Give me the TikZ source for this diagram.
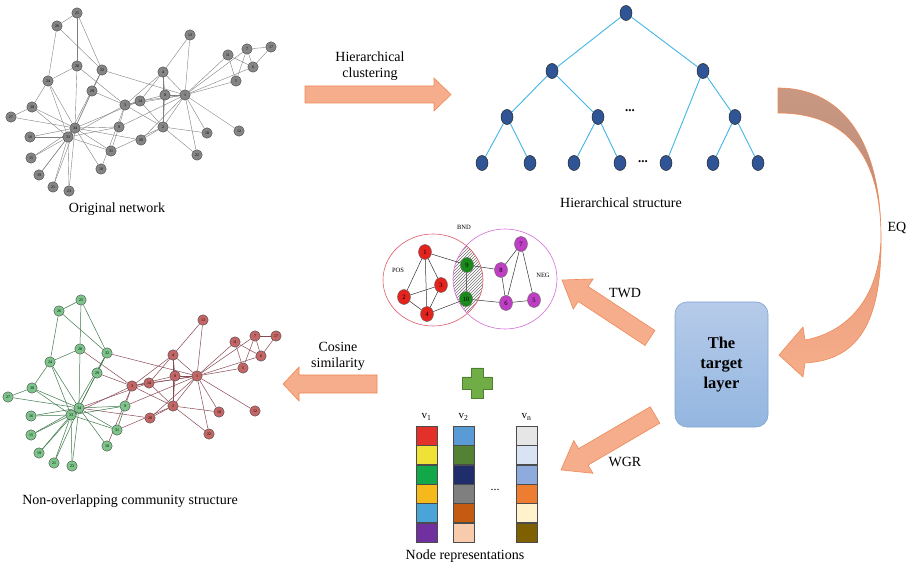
\documentclass[tikz,border=0pt]{standalone}
\usepackage{fontspec}
\setmainfont{Liberation Serif}
\usetikzlibrary{shapes.geometric,patterns}
\pgfdeclarelayer{bg}
\pgfsetlayers{bg,main}
\definecolor{arrfill}{HTML}{F5AD8B}
\definecolor{arrdraw}{HTML}{EE8A58}
\definecolor{treeedge}{HTML}{41B6E6}
\definecolor{treenode}{HTML}{2F5597}
\definecolor{grnode}{HTML}{7CC48A}
\definecolor{rdnode}{HTML}{C46666}
\definecolor{gredge}{HTML}{3F7A4C}
\definecolor{rdedge}{HTML}{8A4A55}
\definecolor{posred}{HTML}{E05A6A}
\definecolor{negmag}{HTML}{D46BD8}
\definecolor{vred}{HTML}{E3231E}
\definecolor{vgreen}{HTML}{1A8A1A}
\definecolor{vmag}{HTML}{BF3FC4}
\definecolor{boxtop}{HTML}{B6CBE9}
\definecolor{boxbot}{HTML}{93B6E0}
\definecolor{boxdraw}{HTML}{7FA5D3}
\definecolor{plusg}{HTML}{70AD47}
\definecolor{plusd}{HTML}{4F7F30}
\definecolor{eqtop}{HTML}{C99882}
\definecolor{eqmid}{HTML}{BB8A7A}
\definecolor{eqlo}{HTML}{E99A7C}
\definecolor{eqbot}{HTML}{F6AE8A}
\begin{document}
\begin{tikzpicture}[x=1pt,y=-1pt,
  onode/.style={circle,draw=black!75,fill=black!48,line width=0.35pt,inner sep=0pt,minimum size=10.5pt,font=\fontsize{4}{4}\selectfont},
  gnode/.style={onode,fill=grnode},
  rnode/.style={onode,fill=rdnode},
  oedge/.style={draw=black!50,line width=0.4pt},
  gedge/.style={draw=gredge,line width=0.5pt},
  redge/.style={draw=rdedge,line width=0.5pt},
  tnode/.style={ellipse,draw=black!85,fill=treenode,line width=0.5pt,inner sep=0pt,minimum width=12pt,minimum height=15pt},
  tedge/.style={draw=treeedge,line width=0.9pt},
  vnode/.style={ellipse,draw=black!60,line width=0.4pt,inner sep=0pt,minimum width=13pt,minimum height=15pt,font=\fontsize{6.5}{6.5}\selectfont},
  vedge/.style={draw=black!80,line width=0.5pt},
  lab/.style={font=\fontsize{14}{16}\selectfont,align=center,inner sep=0pt},
  blockarr/.style={fill=arrfill,draw=arrdraw,line width=0.6pt},
  dotsty/.style={font=\fontsize{13}{13}\selectfont\bfseries,anchor=base,inner sep=0pt},
  cell/.style={draw=black!70,line width=0.4pt,minimum width=21pt,minimum height=19.3pt,inner sep=0pt}
]
\useasboundingbox (0,0) rectangle (908,569);

% ---------------- original network ----------------
\foreach \n/\x/\y in {1/185/95,2/163/127,3/125/105,4/163/72,5/236/81,6/253/67,7/247/49,8/165/95,9/119/127,10/101/169,11/228/55,12/239/131,13/190/35,14/140/101,15/31/158,16/30/137,17/271/47,18/207/133,19/39/175,20/141/140,21/53/187,22/197/155,23/69/191,24/48/81,25/77/13,26/57/26,27/11/117,28/77/66,29/92/91,30/32/107,31/111/151,32/102/70,33/68/137,34/75/128}
  \node[onode] (o\n) at (\x,\y) {\n};
\begin{pgfonlayer}{bg}
\foreach \a/\b in {1/2,1/3,1/4,1/5,1/6,1/7,1/8,1/9,1/11,1/12,1/13,1/14,1/18,1/20,1/22,1/32,2/3,2/4,2/8,2/14,2/18,2/20,2/22,2/31,3/4,3/8,3/9,3/10,3/14,3/28,3/29,3/33,4/8,4/13,4/14,5/7,5/11,6/7,6/11,6/17,7/17,9/31,9/33,9/34,10/34,14/34,15/33,15/34,16/33,16/34,19/33,19/34,20/34,21/33,21/34,23/33,23/34,24/26,24/28,24/30,24/33,24/34,25/26,25/28,25/32,26/32,27/30,27/34,28/34,29/32,29/34,30/33,30/34,31/33,31/34,32/33,32/34,33/34}
  \draw[oedge] (o\a) -- (o\b);
\end{pgfonlayer}
\node[lab] (orilab) at (117,209) {Original network};

% ---------------- community network ----------------
\foreach \n/\x/\y in {1/197/376,2/173/406,3/132/386,4/173/355,5/243/368,6/261/356,7/255/336,8/175/376,11/235/342,12/255/411,13/203/320,14/149/383,17/276/336,18/219/412,20/150/418,22/209/434}
  \node[rnode] (c\n) at (\x,\y) {\n};
\foreach \n/\x/\y in {9/125/406,10/107/446,15/31/435,16/31/416,19/39/453,21/54/463,23/72/466,24/50/362,25/81/300,26/59/311,27/8/397,28/80/349,29/97/373,30/32/388,31/117/430,32/107/353,33/71/415,34/79/408}
  \node[gnode] (c\n) at (\x,\y) {\n};
\begin{pgfonlayer}{bg}
\foreach \a/\b in {1/2,1/3,1/4,1/5,1/6,1/7,1/8,1/9,1/11,1/12,1/13,1/14,1/18,1/20,1/22,1/32,2/3,2/4,2/8,2/14,2/18,2/20,2/22,2/31,3/4,3/8,3/9,3/10,3/14,3/28,3/29,3/33,4/8,4/13,4/14,5/7,5/11,6/7,6/11,6/17,7/17,14/34,20/34}
  \draw[redge] (c\a) -- (c\b);
\foreach \a/\b in {9/31,9/33,9/34,10/34,15/33,15/34,16/33,16/34,19/33,19/34,21/33,21/34,23/33,23/34,24/26,24/28,24/30,24/33,24/34,25/26,25/28,25/32,26/32,27/30,27/34,28/34,29/32,29/34,30/33,30/34,31/33,31/34,32/33,32/34,33/34}
  \draw[gedge] (c\a) -- (c\b);
\end{pgfonlayer}
\node[lab] (comlab) at (130,501) {Non-overlapping community structure};

% ---------------- tree ----------------
\node[tnode] (t0) at (626,13) {};
\node[tnode] (t1a) at (552,71) {};
\node[tnode] (t1b) at (703,71) {};
\node[tnode] (t2a) at (507,117) {};
\node[tnode] (t2b) at (598,117) {};
\node[tnode] (t2c) at (735,117) {};
\foreach \n/\x in {a/482,b/530,c/574,d/620,e/666,f/713,g/758}
  \node[tnode] (t3\n) at (\x,163) {};
\begin{pgfonlayer}{bg}
\foreach \a/\b in {t0/t1a,t0/t1b,t1a/t2a,t1a/t2b,t1b/t3e,t1b/t2c,t2a/t3a,t2a/t3b,t2b/t3c,t2b/t3d,t2c/t3f,t2c/t3g}
  \draw[tedge] (\a) -- (\b);
\end{pgfonlayer}
\node[dotsty] (td1) at (630,112) {...};
\node[dotsty] (td2) at (643,163) {...};
\node[lab] (hierlab) at (621,203) {Hierarchical structure};

% ---------------- hierarchical clustering arrow ----------------
\draw[blockarr] (305,86) -- (434,86) -- (434,78) -- (451,94.5) -- (434,111) -- (434,103) -- (305,103) -- cycle;
\node[lab] (hclab) at (370,66.5) {Hierarchical\\clustering};

% ---------------- cosine similarity arrow ----------------
\draw[blockarr] (377,375) -- (299,375) -- (299,367) -- (283,384) -- (299,401) -- (299,393) -- (377,393) -- cycle;
\node[lab] (coslab) at (338,356.5) {Cosine\\similarity};

% ---------------- EQ curved arrow ----------------
\shade[top color=eqtop,bottom color=eqmid,draw=arrdraw,line width=0.6pt]
  (778,88) .. controls (845,88) and (881,145) .. (881,237)
  .. controls (881,160) and (850,113) .. (778,113) -- cycle;
\shade[top color=eqlo,bottom color=eqbot,draw=arrdraw,line width=0.6pt]
  (881,237) .. controls (882,320) and (860,360) .. (805,363)
  -- (803,377) -- (779,355) -- (803,327) -- (805,340)
  .. controls (845,333) and (880,300) .. (881,237) -- cycle;
\node[lab] (eqlab) at (897,228) {EQ};

% ---------------- target layer ----------------
\node[rounded corners=12pt,minimum width=93pt,minimum height=125pt,top color=boxtop,bottom color=boxbot,draw=boxdraw,line width=0.6pt,
      font=\fontsize{16.5}{20}\selectfont\bfseries,align=center] (target) at (721.5,364.5) {The\\target\\layer};

% ---------------- TWD arrow ----------------
\begin{scope}[shift={(650,338)},rotate=146.6]
  \draw[blockarr] (0,-9) -- (80,-9) -- (80,-18) -- (105.4,0) -- (80,18) -- (80,9) -- (0,9) -- cycle;
\end{scope}
\node[lab] (twdlab) at (625,293) {TWD};

% ---------------- WGR arrow ----------------
\begin{scope}[shift={(655,415)},rotate=210.3]
  \draw[blockarr] (0,-9.5) -- (83,-9.5) -- (83,-19) -- (108.9,0) -- (83,19) -- (83,9.5) -- (0,9.5) -- cycle;
\end{scope}
\node[lab] (wgrlab) at (625,462) {WGR};

% ---------------- three-way decision venn ----------------
\node[ellipse,draw=posred,line width=0.6pt,minimum width=100pt,minimum height=92pt,inner sep=0pt] (posell) at (433,280) {};
\node[ellipse,draw=negmag,line width=0.6pt,minimum width=104pt,minimum height=100pt,inner sep=0pt] (negell) at (505,279) {};
\begin{pgfonlayer}{bg}
\begin{scope}
  \clip (433,280) ellipse [x radius=50pt,y radius=46pt];
  \fill[pattern=north east lines,pattern color=black!55] (505,279) ellipse [x radius=52pt,y radius=50pt];
\end{scope}
\end{pgfonlayer}
\node[vnode,fill=vred] (v1) at (425,252) {1};
\node[vnode,fill=vred] (v2) at (404,297) {2};
\node[vnode,fill=vred] (v3) at (441,285) {3};
\node[vnode,fill=vred] (v4) at (427,314) {4};
\node[vnode,fill=vgreen] (v9) at (467,265) {9};
\node[vnode,fill=vgreen] (v10) at (466,299) {10};
\node[vnode,fill=vmag] (v8) at (501,270) {8};
\node[vnode,fill=vmag] (v7) at (521,244) {7};
\node[vnode,fill=vmag] (v6) at (506,303) {6};
\node[vnode,fill=vmag] (v5) at (534,300) {5};
\foreach \a/\b in {v1/v2,v1/v3,v1/v4,v1/v9,v2/v3,v2/v4,v3/v4,v4/v10,v9/v10,v9/v8,v10/v6,v8/v7,v8/v6,v7/v6,v7/v5,v6/v5}
  \draw[vedge] (\a) -- (\b);
\node[font=\fontsize{6.5}{6.5}\selectfont] (poslab) at (398,270) {POS};
\node[font=\fontsize{6.5}{6.5}\selectfont] (bndlab) at (464,227) {BND};
\node[font=\fontsize{6.5}{6.5}\selectfont] (neglab) at (543,275) {NEG};

% ---------------- plus ----------------
\draw[fill=plusg,draw=plusd,line width=0.6pt] (471,368) -- (483,368) -- (483,377) -- (492,377) -- (492,389) -- (483,389) -- (483,398) -- (471,398) -- (471,389) -- (462,389) -- (462,377) -- (471,377) -- cycle;

% ---------------- node representations ----------------
\foreach \i/\c in {0/E3312A,1/EFE135,2/12A84A,3/F6B91C,4/4BA4D8,5/7030A0}{
  \definecolor{cellc}{HTML}{\c}
  \node[cell,fill=cellc] (a\i) at (426.5,{435.7+19.33*\i}) {};}
\foreach \i/\c in {0/5B9BD5,1/548235,2/1F2D6B,3/7F7F7F,4/C55A11,5/F8CBAD}{
  \definecolor{cellc}{HTML}{\c}
  \node[cell,fill=cellc] (b\i) at (463.5,{435.7+19.33*\i}) {};}
\foreach \i/\c in {0/E7E6E6,1/DAE3F3,2/8FAADC,3/ED7D31,4/FFF2CC,5/7F6000}{
  \definecolor{cellc}{HTML}{\c}
  \node[cell,fill=cellc] (n\i) at (526.5,{435.7+19.33*\i}) {};}
\node[font=\fontsize{11}{11}\selectfont] (vl1) at (426.5,417) {v\textsubscript{1}};
\node[font=\fontsize{11}{11}\selectfont] (vl2) at (463.5,417) {v\textsubscript{2}};
\node[font=\fontsize{11}{11}\selectfont] (vln) at (526.5,417) {v\textsubscript{n}};
\node[font=\fontsize{12}{12}\selectfont,anchor=base,inner sep=0pt] (ndots) at (495,490) {...};
\node[lab] (nrlab) at (465,556) {Node representations};
\end{tikzpicture}
\end{document}
